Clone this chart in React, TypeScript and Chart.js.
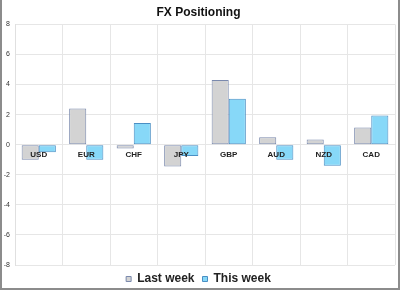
import React, { useEffect, useRef } from "react";
import { Chart, registerables } from "chart.js";

Chart.register(...registerables);

const categories = ["USD", "EUR", "CHF", "JPY", "GBP", "AUD", "NZD", "CAD"];
const lastWeek = [-1.0, 2.4, -0.25, -1.45, 4.3, 0.5, 0.35, 1.15];
const thisWeek = [-0.5, -1.0, 1.45, -0.75, 3.05, -1.0, -1.4, 1.95];
const yTicks = [-8, -6, -4, -2, 0, 2, 4, 6, 8];

export default function App() {
  const ref = useRef<HTMLCanvasElement>(null);
  useEffect(() => {
    if (!ref.current) return;
    const chart = new Chart(ref.current, {
      type: "bar",
      data: {
        labels: categories,
        datasets: [
          {
            label: "Last week",
            data: lastWeek,
            backgroundColor: "#d3d3d3",
            borderColor: "#7a89ad",
            borderWidth: 1,
            borderSkipped: false,
            barPercentage: 1,
            categoryPercentage: 0.72,
          },
          {
            label: "This week",
            data: thisWeek,
            backgroundColor: "#87d8f8",
            borderColor: "#4a8fc4",
            borderWidth: 1,
            borderSkipped: false,
            barPercentage: 1,
            categoryPercentage: 0.72,
          },
        ],
      },
      options: {
        responsive: false,
        animation: false,
        layout: { padding: { left: 0, right: 3, top: 0, bottom: 0 } },
        plugins: {
          title: {
            display: true,
            text: "FX Positioning",
            color: "#111",
            font: { family: "Liberation Sans, Arial", size: 12, weight: "bold" },
            padding: { top: 5, bottom: 5 },
          },
          legend: {
            position: "bottom",
            maxHeight: 23,
            labels: {
              boxWidth: 5,
              boxHeight: 5,
              color: "#222",
              padding: 8,
              font: { family: "Liberation Sans, Arial", size: 12, weight: "bold" },
            },
          },
          tooltip: { enabled: false },
        },
        scales: {
          x: {
            position: { y: 0 },
            grid: { color: "#e6e6e6", drawTicks: false, offset: true, z: -1 },
            border: { color: "#e0e0e0", z: -1 },
            ticks: {
              z: 1,
              color: "#222",
              padding: 5,
              font: { family: "Liberation Sans, Arial", size: 8, weight: "bold" },
            },
          },
          y: {
            min: -8,
            max: 8,
            afterBuildTicks: (s: any) => {
              s.ticks = yTicks.map((v) => ({ value: v }));
            },
            afterFit: (s: any) => {
              s.width = 13;
            },
            grid: { color: "#e6e6e6", drawTicks: false },
            border: { color: "#e0e0e0" },
            ticks: {
              color: "#333",
              padding: 5,
              font: { family: "Liberation Sans, Arial", size: 7 },
            },
          },
        },
      },
    });
    return () => chart.destroy();
  }, []);
  return (
    <div
      style={{
        position: "fixed",
        left: 0,
        top: 0,
        width: 400,
        height: 290,
        boxSizing: "border-box",
        borderLeft: "2px solid #8c8c8c",
        borderRight: "2px solid #8c8c8c",
        borderBottom: "2px solid #8c8c8c",
        background: "#fff",
      }}
    >
      <canvas ref={ref} width={396} height={288} style={{ display: "block" }} />
    </div>
  );
}
